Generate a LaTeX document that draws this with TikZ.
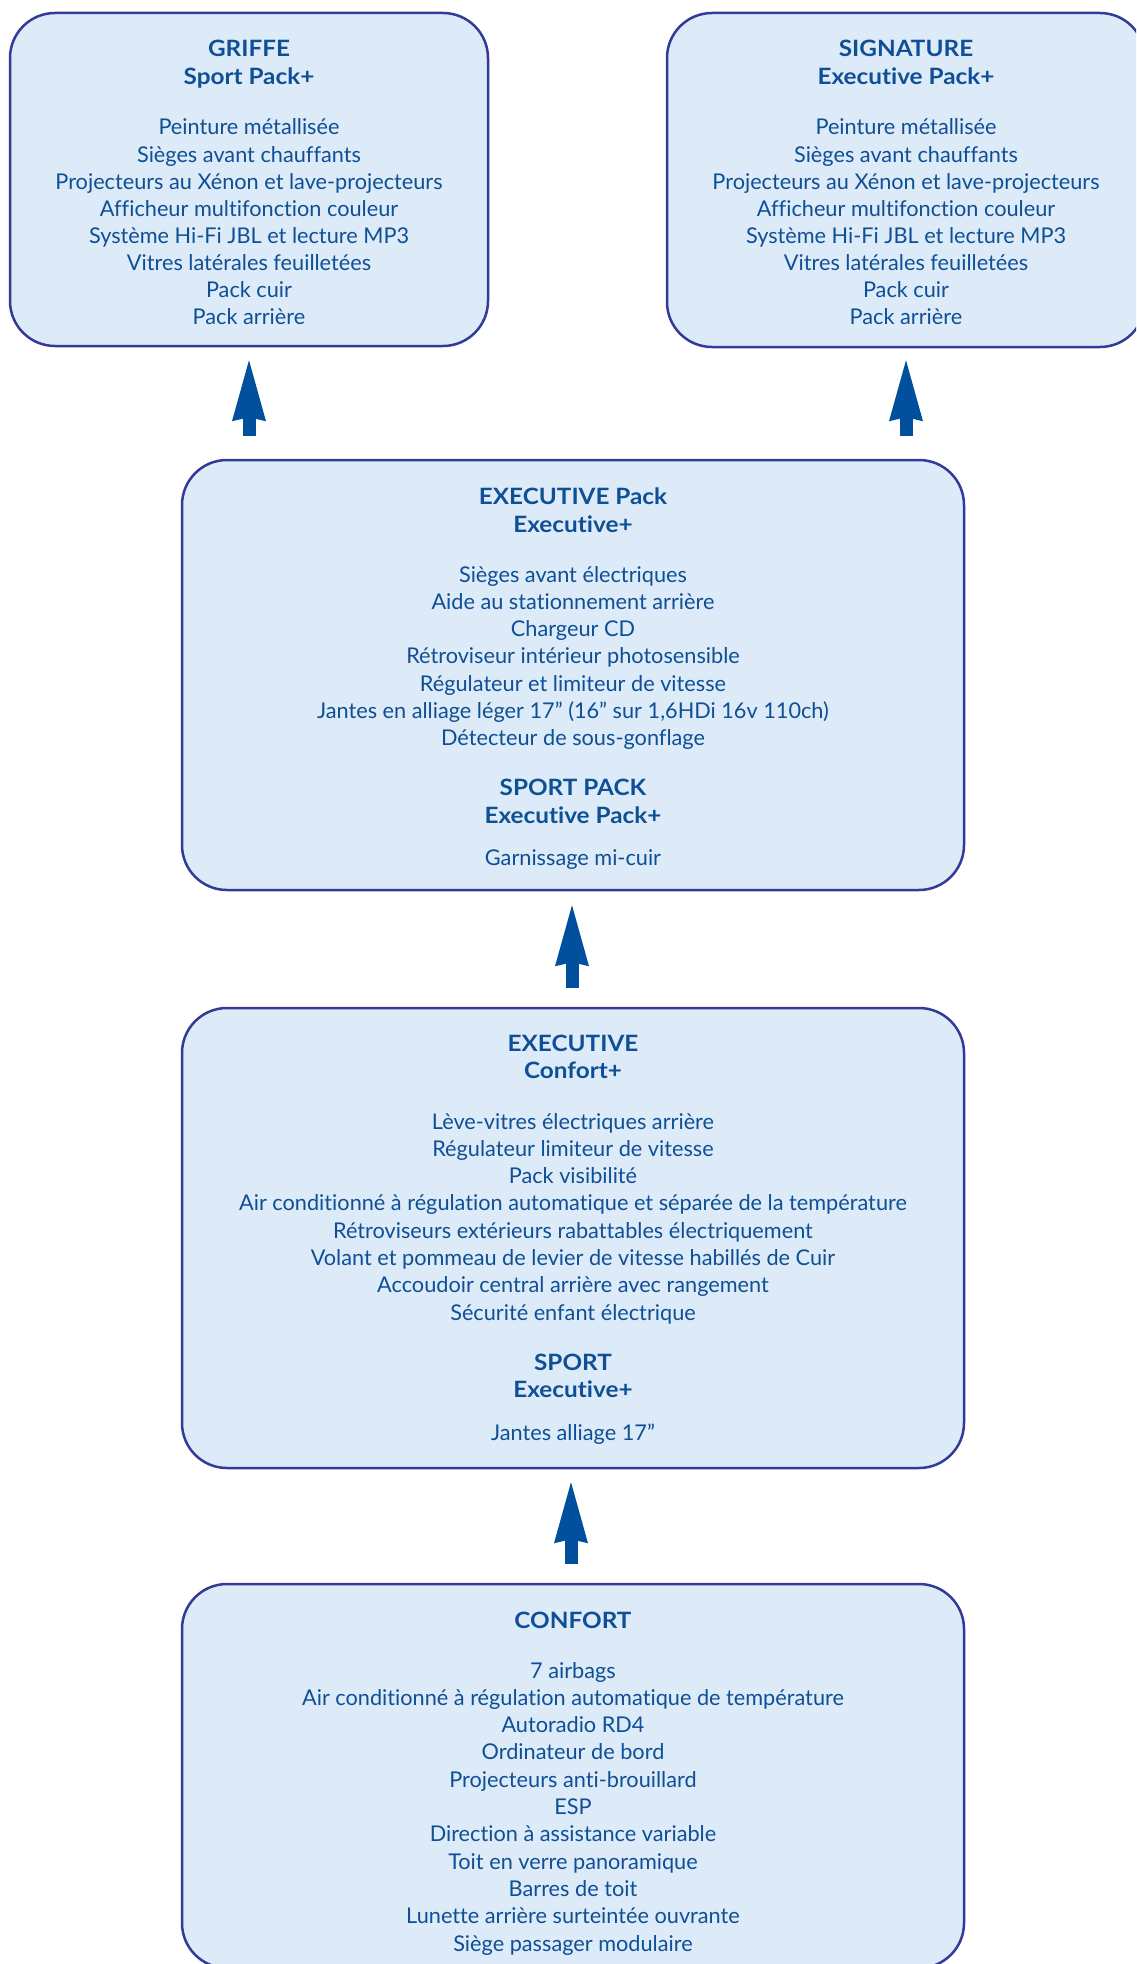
\documentclass[tikz,border=0pt]{standalone}
\usepackage{fontspec}
\setmainfont{Lato}[Ligatures=NoCommon, BoldFeatures={FakeStretch=1.08}]
\usetikzlibrary{arrows.meta}
\definecolor{txtblue}{RGB}{14,79,150}
\definecolor{arrblue}{RGB}{0,80,158}
\definecolor{bordc}{RGB}{52,58,152}
\definecolor{fillc}{RGB}{221,235,248}
\tikzset{
  box/.style={draw=bordc, fill=fillc, line width=2.5pt, rounded corners=45pt, rectangle, inner sep=0pt},
  txt/.style={anchor=base, inner sep=0pt, text=txtblue, font=\fontsize{21.7}{26}\selectfont},
  hdr/.style={anchor=base, inner sep=0pt, text=txtblue, font=\fontsize{22.5}{26}\selectfont\bfseries},
  uparrow/.style={draw=arrblue, line width=13pt, -{Stealth[length=61pt,width=34pt,inset=4pt,line width=0pt]}}
}
\begin{document}
\begin{tikzpicture}[x=1pt,y=-1pt]
\path[use as bounding box] (0,0) rectangle (1136,1964);
\clip (0,0) rectangle (1136,1964);
\fill[white] (0,0) rectangle (1136,1964);

% boxes
\node[box, minimum width=478pt, minimum height=333pt] (griffe) at (249,179.5) {};
\node[box, minimum width=478pt, minimum height=334pt] (signature) at (906,180) {};
\node[box, minimum width=782pt, minimum height=430pt] (execpack) at (573,675) {};
\node[box, minimum width=782pt, minimum height=460pt] (exec) at (573,1238) {};
\node[box, minimum width=782pt, minimum height=384pt] (confort) at (573,1776) {};

% GRIFFE
\node[hdr] (gh1) at (249,57) {GRIFFE};
\node[hdr] (gh2) at (249,85) {Sport Pack+};
\foreach [count=\i] \t in {Peinture métallisée, Sièges avant chauffants, Projecteurs au Xénon et lave-projecteurs, Afficheur multifonction couleur, Système Hi-Fi JBL et lecture MP3, Vitres latérales feuilletées, Pack cuir, Pack arrière}
  \node[txt] (gl\i) at (249,{135+27.1*(\i-1)}) {\t};

% SIGNATURE
\node[hdr] (sh1) at (906,57) {SIGNATURE};
\node[hdr] (sh2) at (906,85) {Executive Pack+};
\foreach [count=\i] \t in {Peinture métallisée, Sièges avant chauffants, Projecteurs au Xénon et lave-projecteurs, Afficheur multifonction couleur, Système Hi-Fi JBL et lecture MP3, Vitres latérales feuilletées, Pack cuir, Pack arrière}
  \node[txt] (sl\i) at (906,{135+27.1*(\i-1)}) {\t};

% EXECUTIVE Pack
\node[hdr] (eph1) at (573,504) {EXECUTIVE Pack};
\node[hdr] (eph2) at (573,532) {Executive+};
\foreach [count=\i] \t in {Sièges avant électriques, Aide au stationnement arrière, Chargeur CD, Rétroviseur intérieur photosensible, Régulateur et limiteur de vitesse, {Jantes en alliage léger 17” (16” sur 1,6HDi 16v 110ch)}, Détecteur de sous-gonflage}
  \node[txt] (epl\i) at (573,{582+27.3*(\i-1)}) {\t};
\node[hdr] (eph3) at (573,795) {SPORT PACK};
\node[hdr] (eph4) at (573,823) {Executive Pack+};
\node[txt] (epl8) at (573,865) {Garnissage mi-cuir};

% EXECUTIVE
\node[hdr] (eh1) at (573,1051) {EXECUTIVE};
\node[hdr] (eh2) at (573,1078) {Confort+};
\foreach [count=\i] \t in {Lève-vitres électriques arrière, Régulateur limiteur de vitesse, Pack visibilité, Air conditionné à régulation automatique et séparée de la température, Rétroviseurs extérieurs rabattables électriquement, Volant et pommeau de levier de vitesse habillés de Cuir, Accoudoir central arrière avec rangement, Sécurité enfant électrique}
  \node[txt] (el\i) at (573,{1129+27.3*(\i-1)}) {\t};
\node[hdr] (eh3) at (573,1370) {SPORT};
\node[hdr] (eh4) at (573,1397) {Executive+};
\node[txt] (el9) at (573,1440) {Jantes alliage 17”};

% CONFORT
\node[hdr] (ch1) at (573,1628) {CONFORT};
\foreach [count=\i] \t in {7 airbags, Air conditionné à régulation automatique de température, Autoradio RD4, Ordinateur de bord, Projecteurs anti-brouillard, ESP, Direction à assistance variable, Toit en verre panoramique, Barres de toit, Lunette arrière surteintée ouvrante, Siège passager modulaire}
  \node[txt] (cl\i) at (573,{1678+27.3*(\i-1)}) {\t};

% arrows
\draw[uparrow] ([yshift=23pt]griffe.south |- execpack.north) -- ([yshift=-13pt]griffe.south);
\draw[uparrow] ([yshift=23pt]signature.south |- execpack.north) -- ([yshift=-12pt]signature.south);
\draw[uparrow] ([xshift=-1pt,yshift=19pt]exec.north) -- ([xshift=-1pt,yshift=-14pt]execpack.south);
\draw[uparrow] ([xshift=-2pt,yshift=19pt]confort.north) -- ([xshift=-2pt,yshift=-13pt]exec.south);
\end{tikzpicture}
\end{document}
